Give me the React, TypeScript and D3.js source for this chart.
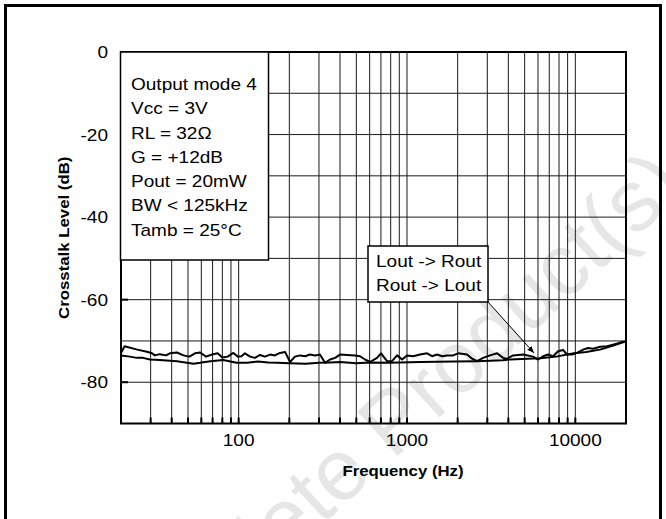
import React from 'react';
import * as d3 from 'd3';

const freqUpper = [20,21,25,28.5,30.6,31.8,34,37,39,43,47,51,55,59,64,69.5,75,80,86,93,99,104,109,117,125,134,143,154,164,176,189,202,216,232,248,265,284,304,326,349,374,400,440,491,526,563,603,664,701,761,815,873,935,1000,1087,1196,1316,1409,1509,1616,1730,1878,2011,2275,2436,2608,2832,3116,3430,3722,3932,4268,4894,5610,6009,6435,6891,7378,7902,8461,8933,9566,10244,11122,11910,12754,14036,15444,16768,18452,20000];
const dbUpper = [-72.9,-71.3,-72.1,-72.6,-73.0,-73.5,-73.2,-73.5,-73.0,-72.8,-73.5,-73.8,-73.0,-72.8,-73.8,-73.3,-73.0,-74.0,-73.8,-72.9,-73.8,-73.7,-73.0,-73.8,-74.1,-73.4,-73.8,-73.3,-73.5,-72.9,-72.7,-75.1,-73.8,-73.5,-73.7,-73.3,-73.5,-73.3,-75.3,-74.5,-74.1,-73.3,-73.4,-73.5,-73.7,-74.5,-75.1,-74.1,-73.0,-74.9,-74.9,-73.5,-74.5,-73.5,-73.7,-73.3,-73.0,-73.7,-73.3,-73.7,-73.5,-73.5,-73.0,-73.3,-74.3,-74.9,-74.1,-73.5,-73.0,-74.1,-74.3,-73.5,-73.3,-73.8,-74.5,-73.7,-73.3,-73.7,-72.5,-72.2,-73.3,-73.3,-72.9,-72.1,-71.7,-71.9,-71.4,-71.3,-70.9,-70.4,-70.1];

const freqLower = [20,22.6,24.8,27,29.7,34,43,54,59,68,81,97,112,130,150,170,200,250,300,350,400,500,600,780,1200,1900,2600,3700,4100,5200,6200,7700,9800,11600,14000,16800,20000];
const dbLower = [-73.5,-73.8,-74.1,-74.1,-74.5,-74.6,-74.9,-75.5,-75.3,-74.9,-74.6,-75.3,-75.3,-75.0,-75.2,-75.3,-75.4,-75.5,-75.3,-75.2,-75.1,-75.4,-75.2,-75.3,-75.1,-75.0,-74.9,-74.7,-74.5,-74.3,-74.2,-73.8,-73.0,-72.7,-72.1,-71.1,-70.1];

const yTickValues = [0, -20, -40, -60, -80];
const yGridValues = [0, -10, -20, -30, -40, -50, -60, -70, -80, -90];
const xTickLabels = [100, 1000, 10000];
const infoLines = ['Output mode 4', 'Vcc = 3V', 'RL = 32\u03A9', 'G = +12dB', 'Pout = 20mW', 'BW < 125kHz', 'Tamb = 25\u00B0C'];
const legendLines = ['Lout -> Rout', 'Rout -> Lout'];
const watermark = 'Obsolete Product(s)';

const FONT = '"Liberation Sans", Arial, Helvetica, sans-serif';
const SX = 1.12;

function T({ x, y, anchor = 'start', size = 17, weight = 'normal', rotate = 0, sx = SX, children }: any) {
  return (
    <text
      transform={`translate(${x},${y}) rotate(${rotate}) scale(${sx},1)`}
      textAnchor={anchor}
      fontSize={size}
      fontWeight={weight}
      fontFamily={FONT}
      fill="#000"
    >
      {children}
    </text>
  );
}

export default function App() {
  const x = d3.scaleLog().domain([20, 20000]).range([121, 626]);
  const y = d3.scaleLinear().domain([-90, 0]).range([423.5, 52]);
  const [x0, x1] = x.range();
  const [yb, yt] = y.range();

  const vGrid: number[] = [];
  [10, 100, 1000, 10000].forEach((d) => {
    for (let m = 1; m <= 9; m++) {
      const f = d * m;
      if (f > 20 && f < 20000) vGrid.push(f);
    }
  });

  const line = d3
    .line<[number, number]>()
    .x((d) => x(d[0]))
    .y((d) => y(d[1]));
  const upper = line(freqUpper.map((f, i) => [f, dbUpper[i]]));
  const lower = line(freqLower.map((f, i) => [f, dbLower[i]]));

  const lgX = 368, lgY = 246, lgW = 120, lgH = 56;

  return (
    <svg width={666} height={519} style={{ position: 'absolute', left: 0, top: 0, background: '#fff' }}>
      <rect x={0} y={0} width={666} height={519} fill="#fff" />
      <text
        transform="translate(118,712) rotate(-42.5)"
        fontSize={87}
        fontFamily={FONT}
        fill="#e6e6e6"
      >
        {watermark}
      </text>
      <rect x={5.5} y={5.5} width={655} height={530} fill="none" stroke="#000" strokeWidth={3} />
      {vGrid.map((f) => (
        <line key={'v' + f} x1={x(f)} x2={x(f)} y1={yt} y2={yb} stroke="#1a1a1a" strokeWidth={1} />
      ))}
      {yGridValues.map((v) => (
        <line key={'h' + v} x1={x0} x2={x1} y1={y(v)} y2={y(v)} stroke="#1a1a1a" strokeWidth={1} />
      ))}
      {vGrid.map((f) => (
        <line key={'bt' + f} x1={x(f)} x2={x(f)} y1={yb - 6} y2={yb} stroke="#000" strokeWidth={2} />
      ))}
      {yTickValues.map((v) => (
        <line key={'lt' + v} x1={x0} x2={x0 + 7} y1={y(v)} y2={y(v)} stroke="#000" strokeWidth={2} />
      ))}
      <rect x={x0} y={yt} width={x1 - x0} height={yb - yt} fill="none" stroke="#000" strokeWidth={2} />
      <path d={lower || ''} fill="none" stroke="#000" strokeWidth={2} strokeLinejoin="round" />
      <path d={upper || ''} fill="none" stroke="#000" strokeWidth={2} strokeLinejoin="round" />
      <rect x={x0 - 0.5} y={yt} width={269 - x0} height={260 - yt} fill="#fff" stroke="#000" strokeWidth={1.5} />
      {infoLines.map((s, i) => (
        <T key={s} x={131} y={90 + i * 24.25}>{s}</T>
      ))}
      <rect x={lgX} y={lgY} width={lgW} height={lgH} fill="#fff" stroke="#000" strokeWidth={1.5} />
      {legendLines.map((s, i) => (
        <T key={s} x={376} y={266.7 + i * 24}>{s}</T>
      ))}
      <defs>
        <marker id="ah" viewBox="0 0 10 10" refX={10} refY={5} markerWidth={7} markerHeight={7} orient="auto">
          <path d="M0,1 L10,5 L0,9 z" fill="#000" />
        </marker>
      </defs>
      <line x1={lgX + lgW} y1={lgY + lgH} x2={534} y2={353} stroke="#000" strokeWidth={1} markerEnd="url(#ah)" />
      {yTickValues.map((v) => (
        <T key={'yl' + v} x={108} y={y(v) + 6} anchor="end">{String(v)}</T>
      ))}
      {xTickLabels.map((f) => (
        <T key={'xl' + f} x={x(f)} y={446} anchor="middle">{String(f)}</T>
      ))}
      <T x={x(1000) - 4} y={476} anchor="middle" size={15} weight="bold">Frequency (Hz)</T>
      <T x={69} y={(yt + yb) / 2} anchor="middle" size={15} weight="bold" rotate={-90}>Crosstalk Level (dB)</T>
    </svg>
  );
}
